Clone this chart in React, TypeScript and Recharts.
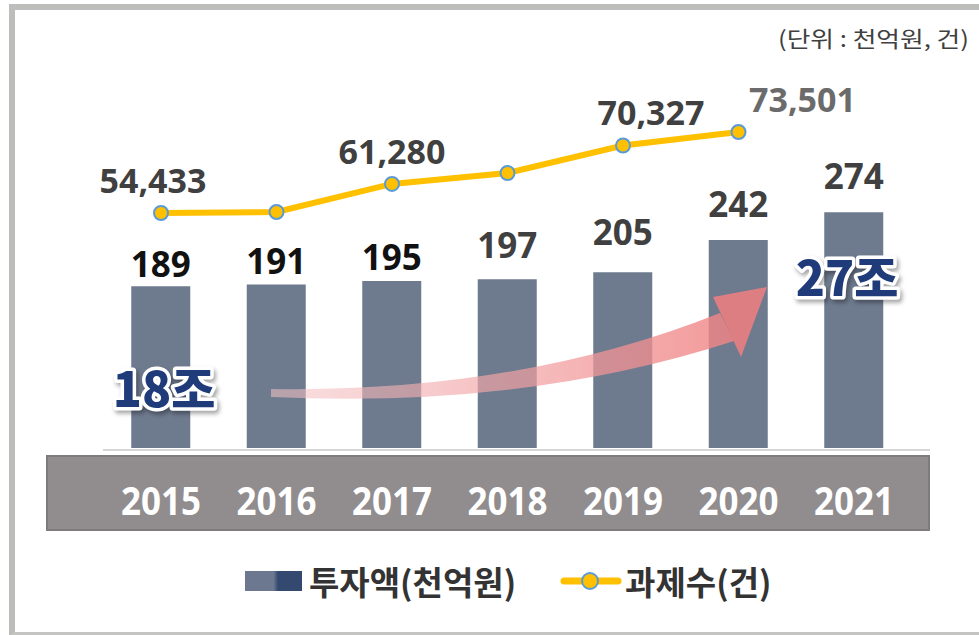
import { ComposedChart, Bar, Line, XAxis, YAxis, LabelList } from 'recharts';

const years = ['2015', '2016', '2017', '2018', '2019', '2020', '2021'];
const investment = [189, 191, 195, 197, 205, 242, 274];
const projects = [54433, 54670, 61280, 63850, 70327, 73501, null];
const projectLabelShown = [true, false, true, false, true, true, false];

const rows = years.map((year, i) => ({
  year,
  amount: investment[i],
  count: projects[i],
}));

const KR = "'Noto Sans CJK KR', 'Noto Sans', sans-serif";
const NUM = "'Open Sans', 'Noto Sans CJK KR', sans-serif";

// label tweaks (style only)
const barLabelGap = [9, 10, 11, 21, 27, 23, 23];
const barLabelColor = ['#111', '#111', '#111', '#404040', '#404040', '#404040', '#404040'];
const lineLabelDx = [-8, 0, 0, 0, 28, 64, 0];
const lineLabelColor = ['#404040', '#404040', '#404040', '#404040', '#404040', '#6b6b6b', '#404040'];

function YearTick({ x, y, payload }: any) {
  return (
    <text
      x={x}
      y={y + 59}
      textAnchor="middle"
      fill="#fff"
      fontSize={40}
      fontWeight={700}
      fontFamily={NUM}
      textLength={80}
      lengthAdjust="spacingAndGlyphs"
    >
      {payload.value}
    </text>
  );
}

function BarValue({ x, y, width, value, index }: any) {
  return (
    <text
      x={x + width / 2}
      y={y - barLabelGap[index]}
      textAnchor="middle"
      fill={barLabelColor[index]}
      fontSize={35}
      fontWeight={700}
      fontFamily={NUM}
    >
      {value}
    </text>
  );
}

function CountValue({ x, y, value, index }: any) {
  if (!projectLabelShown[index] || value == null) return null;
  return (
    <text
      x={x + lineLabelDx[index]}
      y={y - 20}
      textAnchor="middle"
      fill={lineLabelColor[index]}
      fontSize={34}
      fontWeight={700}
      fontFamily={NUM}
    >
      {Number(value).toLocaleString('en-US')}
    </text>
  );
}

function Dot({ cx, cy, value }: any) {
  if (value == null || cx == null) return null;
  return <circle cx={cx} cy={cy} r={7} fill="#ffc000" stroke="#5b9bd5" strokeWidth={2} />;
}

const bigLabel = {
  fontSize: 48,
  fontWeight: 800,
  fontFamily: KR,
  fill: '#1f3b7a',
  stroke: '#fff',
  strokeWidth: 7,
  paintOrder: 'stroke',
  strokeLinejoin: 'round',
  textAnchor: 'middle',
  style: { filter: 'drop-shadow(2px 3px 2px rgba(0,0,0,0.35))' },
} as any;

export default function App() {
  return (
    <div style={{ position: 'relative', width: 979, height: 635, background: '#fff', overflow: 'hidden' }}>
      <style>{`body{margin:0}`}</style>

      {/* frame */}
      <div
        style={{
          position: 'absolute',
          left: 9,
          top: 4,
          width: 968,
          height: 622,
          borderLeft: '6px solid #bdbdbb',
          borderTop: '6px solid #bdbdbb',
          borderBottom: '4px solid #c4c4c2',
          borderRight: '2px solid #d4d4d2',
        }}
      />

      {/* axis band */}
      <div
        style={{
          position: 'absolute',
          left: 46,
          top: 455,
          width: 884,
          height: 76,
          background: '#918c8e',
          boxShadow: 'inset 0 0 0 2px #7f7a7c',
        }}
      />
      <div style={{ position: 'absolute', left: 103, top: 449, width: 827, height: 2, background: '#d6d6d6' }} />

      <div style={{ position: 'absolute', left: 0, top: 0 }}>
        <ComposedChart
          width={979}
          height={635}
          data={rows}
          margin={{ top: 60, right: 67.25, bottom: 127, left: 103.25 }}
        >
          <XAxis
            dataKey="year"
            height={60}
            axisLine={false}
            tickLine={false}
            interval={0}
            tick={<YearTick />}
          />
          <YAxis yAxisId="amt" hide domain={[3, 449]} allowDataOverflow />
          <YAxis yAxisId="cnt" hide domain={[-887, 90450]} allowDataOverflow />
          <Bar yAxisId="amt" dataKey="amount" barSize={59} fill="#6e7a8e" isAnimationActive={false}>
            <LabelList dataKey="amount" content={<BarValue />} />
          </Bar>
          <Line
            yAxisId="cnt"
            dataKey="count"
            stroke="#ffc000"
            strokeWidth={6}
            dot={<Dot />}
            activeDot={false}
            isAnimationActive={false}
          >
            <LabelList dataKey="count" content={<CountValue />} />
          </Line>
        </ComposedChart>
      </div>

      {/* annotations */}
      <svg width={979} height={635} style={{ position: 'absolute', left: 0, top: 0, pointerEvents: 'none' }}>
        <defs>
          <linearGradient id="arrowFill" x1={271} y1={0} x2={767} y2={0} gradientUnits="userSpaceOnUse">
            <stop offset="0" stopColor="#f4c4c6" stopOpacity={0.55} />
            <stop offset="1" stopColor="#f07f80" stopOpacity={0.85} />
          </linearGradient>
        </defs>
        <path d="M271,389 Q520,393 720,313 L734,341 Q525,409 271,397 Z" fill="url(#arrowFill)" />
        <path d="M767,287 L713,297 L741,357 Z" fill="#f07f80" fillOpacity={0.85} />
        <text x={164} y={407} {...bigLabel}>18조</text>
        <text x={847} y={296} {...bigLabel}>27조</text>
        <text
          x={969}
          y={47}
          textAnchor="end"
          fontSize={22}
          fontFamily={KR}
          fill="#404040"
          textLength={191}
          lengthAdjust="spacingAndGlyphs"
        >
          (단위 : 천억원, 건)
        </text>
      </svg>

      {/* legend */}
      <div
        style={{
          position: 'absolute',
          left: 245,
          top: 559,
          height: 44,
          display: 'flex',
          alignItems: 'center',
          fontFamily: KR,
          fontWeight: 700,
          fontSize: 33,
          color: '#333',
          whiteSpace: 'nowrap',
        }}
      >
        <span
          style={{
            display: 'inline-block',
            width: 57,
            height: 20,
            background: 'linear-gradient(90deg,#6b7890 0%,#6b7890 50%,#33496f 58%,#33496f 100%)',
          }}
        />
        <span style={{ marginLeft: 7 }}>투자액(천억원)</span>
        <svg width={62} height={20} style={{ marginLeft: 44 }}>
          <line x1={4} y1={10} x2={58} y2={10} stroke="#ffc000" strokeWidth={7} strokeLinecap="round" />
          <circle cx={30} cy={10} r={8} fill="#ffc000" stroke="#5b9bd5" strokeWidth={2} />
        </svg>
        <span style={{ marginLeft: 3 }}>과제수(건)</span>
      </div>
    </div>
  );
}
